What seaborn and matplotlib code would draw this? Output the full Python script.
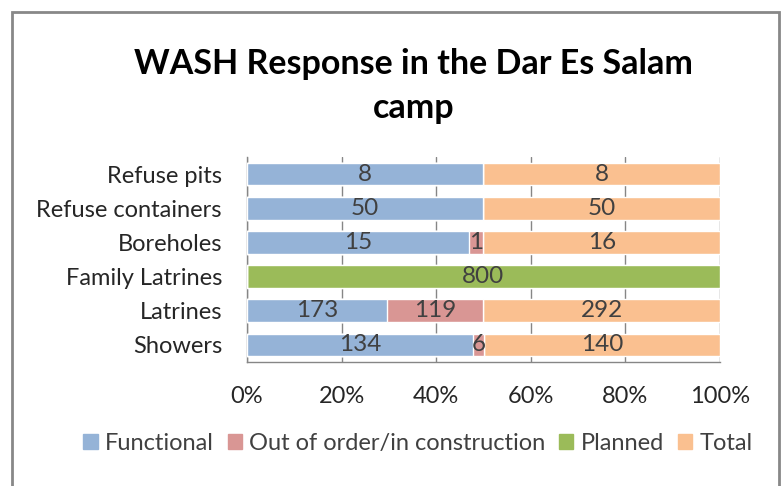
import numpy as np
import pandas as pd
import seaborn as sns
import matplotlib.pyplot as plt
from matplotlib.patches import Rectangle

categories = ['Refuse pits', 'Refuse containers', 'Boreholes',
              'Family Latrines', 'Latrines', 'Showers']
functional = [8, 50, 15, 0, 173, 134]
out_of_order = [0, 0, 1, 0, 119, 6]
planned = [0, 0, 0, 800, 0, 0]
total = [8, 50, 16, 0, 292, 140]

series_names = ['Functional', 'Out of order/in construction', 'Planned', 'Total']
colors = ['#95B3D7', '#D99694', '#9BBB59', '#FAC090']

sns.set_style('white')
plt.rcParams['font.family'] = ['Lato', 'DejaVu Sans']

df = pd.DataFrame({'category': categories, 'Functional': functional,
                   'Out of order/in construction': out_of_order,
                   'Planned': planned, 'Total': total})
vals = df[series_names]
pct = vals.div(vals.sum(axis=1), axis=0) * 100
cum = pct.cumsum(axis=1)

fig = plt.figure(figsize=(7.81, 4.86), dpi=100)
ax = fig.add_axes([247 / 781, 1 - 362 / 486, 473 / 781, 205 / 486])

# draw cumulative bars back to front so they look stacked
for name, col in zip(reversed(series_names), reversed(colors)):
    sns.barplot(x=cum[name], y=df['category'], color=col, orient='h',
                width=0.66, saturation=1, ax=ax, zorder=3)

# segment labels
for i, cat in enumerate(categories):
    left = 0
    for name in series_names:
        v = vals.loc[i, name]
        w = pct.loc[i, name]
        if v > 0:
            ax.text(left + w / 2, i, str(v), ha='center', va='center',
                    fontsize=17.5, color='#404040', zorder=5)
        left += w

ax.set_xlim(0, 100)
ax.set_ylim(len(categories) - 0.5, -0.5)
ax.set_xticks(np.arange(0, 101, 20))
ax.set_xticklabels([f'{t}%' for t in range(0, 101, 20)])
ax.set_yticks(range(len(categories)))
ax.set_yticklabels(categories)
ax.set_yticks(np.arange(-0.5, len(categories), 1), minor=True)
ax.tick_params(axis='y', which='major', length=0, pad=18, labelsize=17,
               labelcolor='#262626')
ax.tick_params(axis='y', which='minor', length=5, width=1, color='#868686',
               direction='out')
ax.tick_params(axis='x', length=5, width=1, color='#868686', direction='out',
               labelsize=17, labelcolor='#262626', pad=12)
ax.set_xlabel('')
ax.set_ylabel('')
ax.grid(axis='x', color='#868686', linewidth=1, zorder=0)
ax.set_axisbelow(True)
for s in ['top', 'right']:
    ax.spines[s].set_visible(False)
for s in ['left', 'bottom']:
    ax.spines[s].set_color('#868686')
    ax.spines[s].set_linewidth(1)

fig.text(0.53, 1 - 86 / 486, 'WASH Response in the Dar Es Salam\ncamp',
         ha='center', va='center', fontsize=24.5, fontweight='bold',
         color='#000000', linespacing=1.5)

handles = [Rectangle((0, 0), 1, 1, color=c) for c in colors]
fig.legend(handles, series_names, loc='center', bbox_to_anchor=(0.535, 1 - 443 / 486),
           ncol=4, frameon=False, fontsize=17, handlelength=0.6, handleheight=0.6,
           handletextpad=0.3, columnspacing=0.6, labelcolor='#404040')

fig.patches.append(Rectangle((12 / 781, -0.05), 767 / 781, 1.05 - 12 / 486,
                             transform=fig.transFigure, fill=False,
                             edgecolor='#888888', linewidth=2))

fig.savefig('out.png', dpi=100)
